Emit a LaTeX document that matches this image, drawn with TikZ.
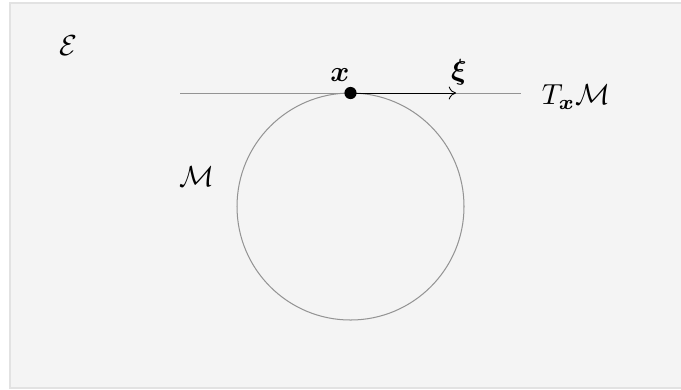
\documentclass[tikz,border=0pt]{standalone}
\usepackage{amsmath,bm}
\usetikzlibrary{arrows.meta}
\definecolor{bgfill}{HTML}{F4F4F4}
\definecolor{bgline}{HTML}{E2E2E2}
\tikzset{
  geo/.style={draw=gray!85, line width=0.35pt},
  lab/.style={inner sep=0pt, font=\normalsize},
}
\begin{document}
\begin{tikzpicture}[x=0.3448pt, y=-0.3448pt]
\useasboundingbox (0,0) rectangle (681,389);
\draw[fill=bgfill, draw=bgline, line width=0.5pt] (10,3) rectangle (684,388);
\coordinate (c) at (350.5,206.5);
\draw[geo] (c) circle[radius=113.5*0.3448pt];
\coordinate (L) at (180,93);
\coordinate (R) at (521,93);
\draw[geo] (L) -- (R);
\node[circle, fill=black, inner sep=0pt, minimum size=4.2pt] (x) at (350.5,93) {};
\coordinate (xi) at (456,93);
\draw[-{To[length=2.5pt,width=4.5pt]}, line width=0.3pt] (x.center) -- (xi);
\node[lab] (lx) at (340,75) {$\bm{x}$};
\node[lab] (lxi) at (459,72) {$\bm{\xi}$};
\node[lab] (lT) at (576,97) {$T_{\bm{x}}\mathcal{M}$};
\node[lab] (lM) at (197,177) {$\mathcal{M}$};
\node[lab] (lE) at (68,46) {$\mathcal{E}$};
\end{tikzpicture}
\end{document}
